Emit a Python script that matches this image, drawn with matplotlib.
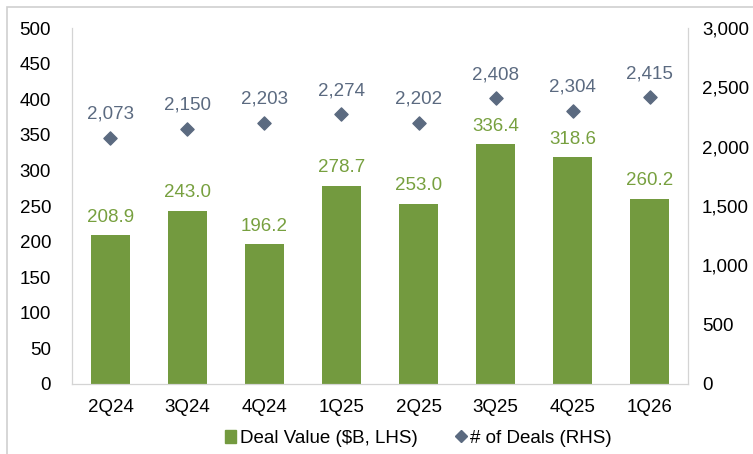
import matplotlib.pyplot as plt
from matplotlib.patches import Rectangle
from matplotlib.lines import Line2D
from matplotlib.patches import Patch

plt.rcParams['font.family'] = ['Liberation Sans', 'DejaVu Sans']

quarters = ["2Q24", "3Q24", "4Q24", "1Q25", "2Q25", "3Q25", "4Q25", "1Q26"]
deal_value = [208.9, 243.0, 196.2, 278.7, 253.0, 336.4, 318.6, 260.2]
num_deals = [2073, 2150, 2203, 2274, 2202, 2408, 2304, 2415]

green = "#739a3f"
label_green = "#77a03f"
slate = "#5b6a80"
grey = "#d4d4d4"

fig = plt.figure(figsize=(7.53, 4.54), dpi=100)
ax = fig.add_axes([0.0956, 0.1542, 0.8181, 0.7841])
ax2 = ax.twinx()

x = range(len(quarters))
ax.bar(x, deal_value, width=0.5, color=green, zorder=2)
ax2.scatter(x, num_deals, marker="D", s=45, color=slate, zorder=3)

for i, v in enumerate(deal_value):
    ax.annotate(f"{v:.1f}", (i, v), xytext=(0, 13), textcoords="offset points",
                ha="center", va="center", color=label_green, fontsize=13.5)
for i, n in enumerate(num_deals):
    ax2.annotate(f"{n:,}", (i, n), xytext=(0, 17), textcoords="offset points",
                 ha="center", va="center", color=slate, fontsize=13.5)

ax.set_xlim(-0.5, len(quarters) - 0.5)
ax.set_ylim(0, 500)
ax2.set_ylim(0, 3000)
ax.set_yticks(range(0, 501, 50))
ax2.set_yticks(range(0, 3001, 500))
ax2.set_yticklabels([f"{t:,}" for t in range(0, 3001, 500)])
ax.set_xticks(list(x))
ax.set_xticklabels(quarters)

for a in (ax, ax2):
    a.tick_params(length=0, labelsize=13.5)
    a.spines["top"].set_visible(False)
    for s in ("left", "right", "bottom"):
        a.spines[s].set_color(grey)
ax.tick_params(axis="y", pad=15)
ax.tick_params(axis="x", pad=11)
ax2.tick_params(axis="y", pad=10)

handles = [Patch(color=green, label="Deal Value ($B, LHS)"),
           Line2D([], [], marker="D", linestyle="none", color=slate, markersize=6,
                  label="# of Deals (RHS)")]
fig.legend(handles=handles, loc="center", bbox_to_anchor=(0.556, 0.035), ncol=2,
           frameon=False, fontsize=13.5, handlelength=0.6, handletextpad=0.2,
           columnspacing=2.0)

fig.patches.append(Rectangle((7 / 753, -0.1), 1.2, 1 - 7 / 454 + 0.1,
                             transform=fig.transFigure, fill=False,
                             edgecolor="#cfcfcf", linewidth=1.2))

fig.savefig("out.png", dpi=100)
